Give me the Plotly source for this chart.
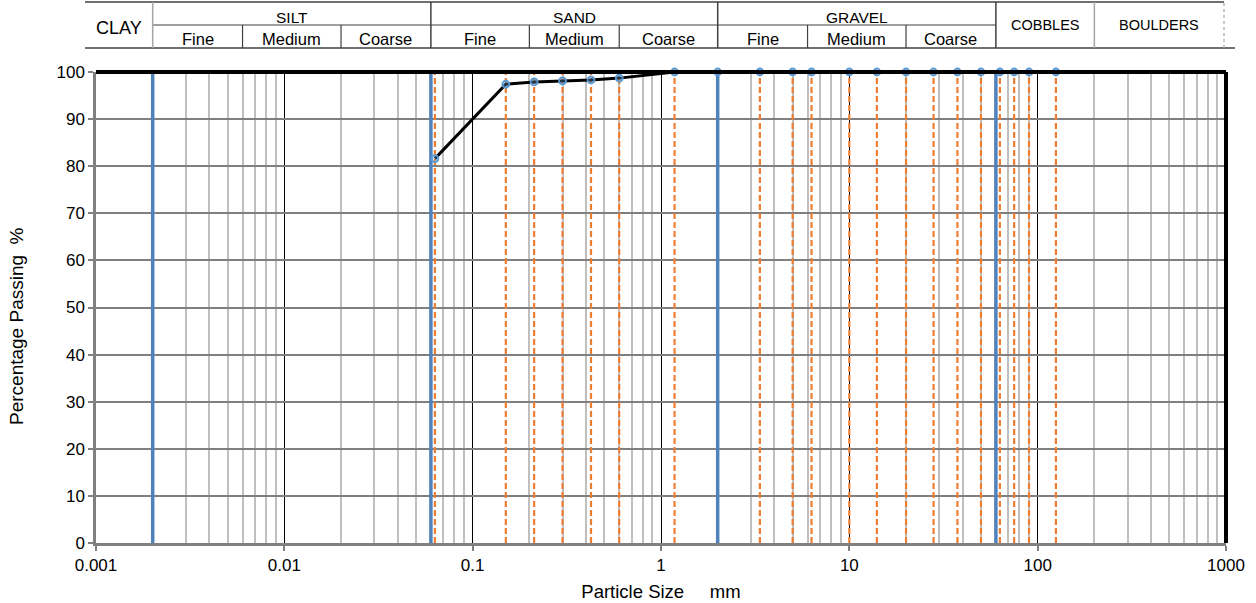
import numpy as np
import plotly.graph_objects as go

# ---- data ----
sieve_sizes = [0.063, 0.15, 0.212, 0.3, 0.425, 0.6, 1.18, 2, 3.35, 5, 6.3, 10, 14,
               20, 28, 37.5, 50, 63, 75, 90, 125]
percent_passing = [81.6, 97.4, 97.9, 98.1, 98.3, 98.7, 100, 100, 100, 100, 100, 100, 100,
                   100, 100, 100, 100, 100, 100, 100, 100]
class_boundaries = [0.002, 0.06, 2, 60]
x_tick_vals = [0.001, 0.01, 0.1, 1, 10, 100, 1000]
x_tick_text = ["0.001", "0.01", "0.1", "1", "10", "100", "1000"]

# header table: (label, lower mm, upper mm)
main_classes = [("SILT", 0.002, 0.06), ("SAND", 0.06, 2), ("GRAVEL", 2, 60)]
sub_classes = [("Fine", 0.002, 0.006), ("Medium", 0.006, 0.02), ("Coarse", 0.02, 0.06),
               ("Fine", 0.06, 0.2), ("Medium", 0.2, 0.6), ("Coarse", 0.6, 2),
               ("Fine", 2, 6), ("Medium", 6, 20), ("Coarse", 20, 60)]
big_classes = [("COBBLES", 60, 200), ("BOULDERS", 200, 1000)]

FONT = "Liberation Sans, Arial, sans-serif"
XMIN, XMAX = -3, 3


def px(v):
    """mm -> paper x fraction on the log axis"""
    return (np.log10(v) - XMIN) / (XMAX - XMIN)


fig = go.Figure()

# sieve lines (orange dashed)
for s in sieve_sizes:
    fig.add_trace(go.Scatter(x=[s, s], y=[0, 100], mode="lines",
                             line=dict(color="#ED7D31", width=2.2, dash="6px,3px"),
                             hoverinfo="skip", showlegend=False))
# class boundary lines (blue)
for b in class_boundaries:
    fig.add_trace(go.Scatter(x=[b, b], y=[0, 100], mode="lines",
                             line=dict(color="#4F81BD", width=3.5),
                             hoverinfo="skip", showlegend=False))
# grading curve
fig.add_trace(go.Scatter(x=sieve_sizes, y=percent_passing, mode="lines+markers",
                         line=dict(color="black", width=3),
                         marker=dict(symbol="circle", size=7, color="rgba(91,155,213,0.35)",
                                     line=dict(color="#5B9BD5", width=1.8)),
                         showlegend=False, cliponaxis=False))

minor_vals = [m * 10 ** e for e in range(-3, 3) for m in range(2, 10)]

fig.update_xaxes(type="log", range=[XMIN, XMAX], tickmode="array",
                 tickvals=x_tick_vals, ticktext=x_tick_text,
                 showgrid=True, gridcolor="black", gridwidth=1,
                 ticks="outside", ticklen=5, tickcolor="#808080", tickwidth=1.5,
                 showline=True, linecolor="#808080", linewidth=2.5,
                 minor=dict(tickmode="array", tickvals=minor_vals, showgrid=True,
                            gridcolor="#BFBFBF", gridwidth=1.5, ticks=""),
                 tickfont=dict(family=FONT, size=17, color="black"),
                 title=dict(text="Particle Size" + "\u00a0" * 5 + "mm",
                            font=dict(family=FONT, size=18.5, color="black"), standoff=11),
                 zeroline=False, automargin=False)
fig.update_yaxes(range=[0, 100], dtick=10, showgrid=True, gridcolor="#808080", gridwidth=1.5,
                 ticks="outside", ticklen=5, tickcolor="#808080", tickwidth=1.5,
                 showline=True, linecolor="#808080", linewidth=2.5,
                 tickfont=dict(family=FONT, size=17, color="black"),
                 zeroline=False, automargin=False)

shapes = []
# plot border top and right (thick black)
shapes.append(dict(type="line", xref="paper", yref="paper", x0=0, x1=1, y0=1, y1=1,
                   line=dict(color="black", width=4)))
shapes.append(dict(type="line", xref="paper", yref="paper", x0=1, x1=1, y0=0, y1=1,
                   line=dict(color="black", width=4)))

# header geometry (paper y above plot)
PLOT_H = 471.0
PLOT_W = 1130.0
y_top = 1 + 70 / PLOT_H
y_mid = 1 + 47 / PLOT_H
y_bot = 1 + 24 / PLOT_H
x_left = -11 / PLOT_W
x_right_top = 1128 / PLOT_W
x_right_bot = 1139 / PLOT_W
dark = "#404040"
light = "#A6A6A6"

shapes.append(dict(type="line", xref="paper", yref="paper", x0=x_left, x1=x_right_top,
                   y0=y_top, y1=y_top, line=dict(color=dark, width=1.5)))
shapes.append(dict(type="line", xref="paper", yref="paper", x0=x_left, x1=x_right_bot,
                   y0=y_bot, y1=y_bot, line=dict(color=dark, width=1.5)))
shapes.append(dict(type="line", xref="paper", yref="paper", x0=px(0.002), x1=px(60),
                   y0=y_mid, y1=y_mid, line=dict(color=dark, width=1.2)))
# full-height dividers
for v, col in [(0.002, light), (0.06, dark), (2, dark), (60, dark), (200, light)]:
    shapes.append(dict(type="line", xref="paper", yref="paper", x0=px(v), x1=px(v),
                       y0=y_bot, y1=y_top, line=dict(color=col, width=1.5)))
# sub dividers
for v in [0.006, 0.02, 0.2, 0.6, 6, 20]:
    shapes.append(dict(type="line", xref="paper", yref="paper", x0=px(v), x1=px(v),
                       y0=y_bot, y1=y_mid, line=dict(color=dark, width=1.2)))
# dotted right end
shapes.append(dict(type="line", xref="paper", yref="paper", x0=x_right_top, x1=x_right_top,
                   y0=y_bot, y1=y_top, line=dict(color=light, width=1.2, dash="dot")))

annotations = []
# y-axis title (as rotated annotation so it can sit slightly below centre)
annotations.append(dict(text="Percentage Passing\u00a0\u00a0%", xref="paper", yref="paper",
                        x=-80 / PLOT_W, y=217 / PLOT_H, textangle=-90, showarrow=False,
                        font=dict(family=FONT, size=19, color="black"),
                        xanchor="center", yanchor="middle"))
annotations.append(dict(text="CLAY", xref="paper", yref="paper",
                        x=(x_left + px(0.002)) / 2, y=1 + 44 / PLOT_H, showarrow=False,
                        font=dict(family=FONT, size=18, color="black"),
                        xanchor="center", yanchor="middle"))
for name, lo, hi in main_classes:
    annotations.append(dict(text=name, xref="paper", yref="paper",
                            x=(px(lo) + px(hi)) / 2, y=1 + 55 / PLOT_H, showarrow=False,
                            font=dict(family=FONT, size=15.5, color="black"),
                            xanchor="center", yanchor="middle"))
for name, lo, hi in sub_classes:
    annotations.append(dict(text=name, xref="paper", yref="paper",
                            x=(px(lo) + px(hi)) / 2, y=1 + 33 / PLOT_H, showarrow=False,
                            font=dict(family=FONT, size=16.5, color="black"),
                            xanchor="center", yanchor="middle"))
for name, lo, hi in big_classes:
    xr = px(hi) if hi < 1000 else x_right_top
    annotations.append(dict(text=name, xref="paper", yref="paper",
                            x=(px(lo) + xr) / 2, y=1 + 47 / PLOT_H, showarrow=False,
                            font=dict(family=FONT, size=14.5, color="black"),
                            xanchor="center", yanchor="middle"))

fig.update_layout(width=1256, height=603,
                  margin=dict(l=96, r=30, t=72, b=60),
                  plot_bgcolor="white", paper_bgcolor="white",
                  shapes=shapes, annotations=annotations,
                  font=dict(family=FONT, color="black"))

fig.write_html("out.html", config={"displayModeBar": False})

# remove the default page margin so the figure sits at the window origin
with open("out.html", "r", encoding="utf-8") as f:
    html = f.read()
html = html.replace("<head>", "<head><style>html,body{margin:0;padding:0;overflow:hidden;}</style>", 1)
with open("out.html", "w", encoding="utf-8") as f:
    f.write(html)
